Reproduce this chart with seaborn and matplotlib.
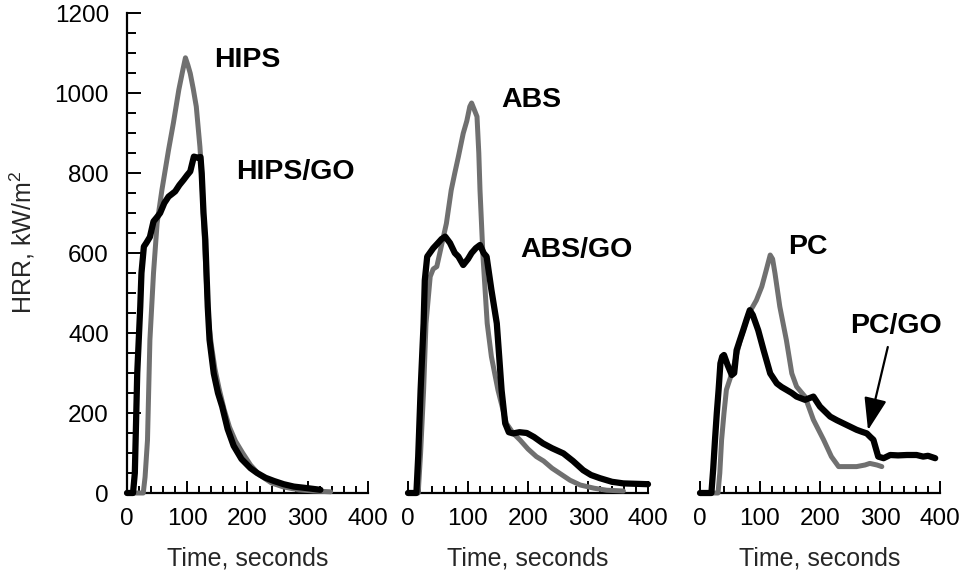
import matplotlib
matplotlib.use("Agg")
import matplotlib.pyplot as plt
from matplotlib.ticker import MultipleLocator
import seaborn as sns
import pandas as pd

# ---------------- data ----------------
hips_t = [0, 27, 30, 34, 38, 44, 50, 58, 69, 77, 86, 93, 97, 101, 105, 110, 115, 121, 124, 128,
          132, 136, 140, 146, 153, 161, 170, 180, 192, 205, 220, 240, 260, 285, 310, 338]
hips_hrr = [0, 0, 40, 132, 382, 550, 675, 758, 858, 925, 1008, 1060, 1088, 1070, 1049, 1010, 966, 866, 800, 650,
            520, 420, 370, 310, 260, 210, 165, 130, 100, 70, 45, 25, 15, 8, 5, 3]

hipsgo_t = [0, 10, 13, 17, 22, 24, 28, 32, 38, 44, 50, 55, 62, 69, 75, 80, 87, 94, 100, 105,
            111, 118, 122, 124, 127, 130, 134, 137, 144, 151, 158, 167, 177, 190, 205, 216, 230, 244,
            260, 277, 300, 321]
hipsgo_hrr = [0, 0, 50, 300, 466, 550, 616, 625, 640, 679, 690, 700, 725, 741, 748, 754, 770, 783, 795, 804,
              841, 838, 840, 799, 700, 633, 466, 383, 299, 250, 216, 160, 118, 85, 62, 50, 38, 30,
              22, 16, 12, 8]

abs_t = [0, 17, 21, 26, 30, 37, 42, 48, 56, 64, 72, 78, 84, 92, 98, 103, 106, 110, 115, 118,
         120, 125, 132, 139, 150, 164, 175, 187, 200, 214, 226, 240, 253, 270, 287, 310, 331, 359]
abs_hrr = [0, 0, 100, 257, 424, 541, 560, 566, 620, 674, 757, 800, 841, 899, 930, 966, 975, 960, 941, 850,
           757, 591, 424, 341, 257, 174, 150, 132, 110, 91, 80, 62, 49, 32, 20, 12, 7, 5]

absgo_t = [0, 14, 17, 21, 26, 28, 32, 42, 50, 56, 62, 70, 78, 84, 92, 100, 106, 113, 120, 126,
           131, 139, 148, 152, 156, 162, 168, 175, 186, 198, 210, 225, 240, 259, 275, 292, 305, 320,
           340, 359, 400]
absgo_hrr = [0, 0, 91, 257, 424, 532, 591, 612, 625, 635, 641, 625, 600, 591, 570, 585, 600, 612, 620, 600,
             591, 508, 424, 341, 257, 174, 152, 149, 152, 150, 140, 124, 112, 99, 80, 57, 45, 37,
             28, 24, 22]

pc_t = [0, 30, 33, 36, 40, 44, 53, 60, 67, 74, 81, 88, 94, 103, 110, 117, 121, 125, 133, 144,
        153, 161, 175, 189, 206, 219, 231, 245, 261, 275, 283, 295, 303]
pc_hrr = [0, 0, 50, 133, 200, 258, 299, 340, 382, 415, 449, 466, 482, 516, 555, 595, 585, 549, 466, 382,
          299, 266, 241, 183, 133, 91, 66, 66, 66, 70, 74, 70, 66]

pcgo_t = [0, 19, 22, 25, 28, 31, 34, 37, 40, 46, 53, 57, 61, 66, 72, 78, 83, 88, 97, 106,
          117, 128, 136, 144, 153, 161, 175, 182, 189, 200, 217, 228, 239, 250, 261, 270, 278, 284,
          289, 297, 306, 317, 330, 345, 361, 372, 380, 392]
pcgo_hrr = [0, 0, 60, 133, 200, 258, 324, 341, 345, 320, 295, 300, 357, 380, 407, 435, 457, 445, 407, 357,
            299, 274, 265, 258, 250, 241, 233, 237, 241, 216, 191, 182, 174, 166, 158, 153, 149, 140,
            133, 91, 87, 95, 94, 95, 95, 91, 93, 87]

y_ticks = [0, 200, 400, 600, 800, 1000, 1200]
x_ticks = [0, 100, 200, 300, 400]

panels = [
    {"gray": (hips_t, hips_hrr), "black": (hipsgo_t, hipsgo_hrr),
     "labels": [("HIPS", 200, 1082), ("HIPS/GO", 280, 802)]},
    {"gray": (abs_t, abs_hrr), "black": (absgo_t, absgo_hrr),
     "labels": [("ABS", 205, 982), ("ABS/GO", 280, 607)]},
    {"gray": (pc_t, pc_hrr), "black": (pcgo_t, pcgo_hrr),
     "labels": [("PC", 180, 615), ("PC/GO", 327, 417)]},
]

# ---------------- style ----------------
sns.set_style("white")
plt.rcParams["font.family"] = ["Liberation Sans", "DejaVu Sans"]
plt.rcParams["mathtext.fontset"] = "custom"
plt.rcParams["mathtext.rm"] = "Liberation Sans"
plt.rcParams["mathtext.it"] = "Liberation Sans:italic"

GRAY = "#707070"
fig = plt.figure(figsize=(9.7, 5.83), dpi=100)

W, H = 970.0, 583.0
bottom = (H - 493) / H
height = 480 / H
lefts = [127, 408, 700]
widths = [241, 240, 240]

for i, (p, lx, w) in enumerate(zip(panels, lefts, widths)):
    ax = fig.add_axes([lx / W, bottom, w / W, height])
    df_g = pd.DataFrame({"t": p["gray"][0], "hrr": p["gray"][1]})
    df_b = pd.DataFrame({"t": p["black"][0], "hrr": p["black"][1]})
    sns.lineplot(data=df_g, x="t", y="hrr", ax=ax, color=GRAY, lw=3.6, sort=False,
                 estimator=None, legend=False, clip_on=False, zorder=3)
    sns.lineplot(data=df_b, x="t", y="hrr", ax=ax, color="black", lw=4.5, sort=False,
                 estimator=None, legend=False, clip_on=False, zorder=4)
    ax.set_xlim(0, 400)
    ax.set_ylim(0, 1200)
    ax.set_xticks(x_ticks)
    ax.set_xticklabels([str(v) for v in x_ticks])
    ax.xaxis.set_minor_locator(MultipleLocator(20))
    ax.tick_params(axis="x", which="major", direction="in", length=9, width=1.4, bottom=True,
                   labelsize=17.5, pad=11, colors="black")
    ax.tick_params(axis="x", which="minor", direction="in", length=5, width=1.4, bottom=True,
                   colors="black")
    ax.set_xlabel("Time, seconds", fontsize=18, labelpad=12)
    for s in ["top", "right"]:
        ax.spines[s].set_visible(False)
    ax.spines["bottom"].set_linewidth(1.6)
    ax.spines["bottom"].set_color("black")
    if i == 0:
        ax.set_yticks(y_ticks)
        ax.set_yticklabels([str(v) for v in y_ticks])
        ax.yaxis.set_minor_locator(MultipleLocator(50))
        ax.tick_params(axis="y", which="major", direction="in", length=10, width=1.4, left=True,
                       labelsize=17.5, pad=13, colors="black")
        ax.tick_params(axis="y", which="minor", direction="in", length=6.5, width=1.4, left=True,
                       colors="black")
        ax.spines["left"].set_linewidth(1.6)
        ax.spines["left"].set_color("black")
    else:
        ax.spines["left"].set_visible(False)
        ax.set_yticks([])
    ax.set_ylabel("")
    for txt, tx, ty in p["labels"]:
        ax.text(tx, ty, txt, fontsize=20.5, fontweight="bold", ha="center", va="center",
                color="black")
    if i == 2:
        ax.annotate("", xy=(280, 157), xytext=(313, 365),
                    arrowprops=dict(arrowstyle="-|>,head_length=1.0,head_width=0.35",
                                    mutation_scale=20, lw=1.6, color="black",
                                    shrinkA=0, shrinkB=0), zorder=5)
    ax.patch.set_alpha(0)

fig.text(22 / W, (H - 242) / H, "HRR, kW/m$^2$", rotation=90, fontsize=18,
         ha="center", va="center")

fig.savefig("out.png", dpi=100, facecolor="white")
